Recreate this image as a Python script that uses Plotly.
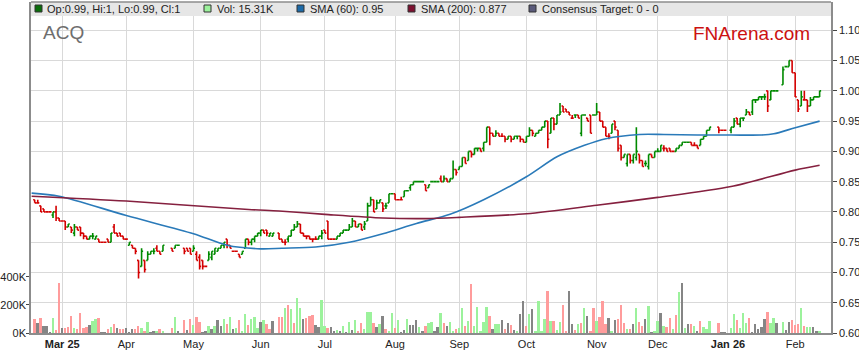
import pandas as pd
import plotly.graph_objects as go

# ---------------- data (one row per week, Mon..Fri; None = ASX holiday) ----------------
open_rows = [
    [.82,.815,.81,.805],
    [.80,.80,.795,.80,.79],[.785,.785,.775,.775,.765],[.775,.775,.765,.76,.755],[.76,.755,.755,.75,.75],
    [.755,.75,.775,.765,.765],[.76,.755,.745,.745,.74],[.72,.71,.72,.72,.73],[.735,.74,.735,.735,None],
    [None,.74,.74,.745,None],[.74,.74,.74,.735,.73],[.725,.72,.71,.72,.725],[.73,.735,.74,.745,.755],
    [.745,.735,.735,.73,.73],[.74,.755,.75,.755,.76],[.765,.77,.77,.76,.76],[None,.765,.755,.75,.755],
    [.76,.77,.775,.78,.765],[.76,.76,.755,.755,.755],[.76,.77,.785,.755,.755],[.755,.76,.765,.77,.77],
    [.775,.785,.775,.78,.775],[.785,.81,.82,.805,.815],[.815,.81,.815,.83,.83],[.82,.82,.825,.835,.84],
    [.845,.85,.85,.85,.845],[.84,.85,.85,.85,.855],[.85,.855,.85,.855,.87],[.87,.875,.89,.885,.90],
    [.895,.905,.905,.905,.915],[.94,.93,.925,.93,.925],[.925,.92,.925,.92,.925],[.925,.92,.915,.925,.935],
    [.925,.93,.935,.94,.95],[.93,.955,.945,.96,.975],[.97,.965,.955,.96,.96],[.93,.96,.955,.96,.96],
    [.96,.965,.95,.94,.925],[.93,.95,.935,.91,.89],[.88,.895,.885,.89,.895],[.885,.88,.875,.895,.89],
    [.90,.90,.905,.905,.905],[.90,.90,.905,.91,.915],[.915,.915,.91,.91,.91],[.92,.925,.935,None,None],
    [.94,.935,.935,None,.935],[.94,.955,.945,.955,.96],[.965,.965,.985,.985,.99],[.99,1.00,.985,1.00,1.00],
    [None,1.01,1.04,1.04,1.05],[1.03,.985,.975,.985,.985],[.975,.985,.99,.99],
]
high_rows = [
    [.82,.82,.81,.805],
    [.80,.80,.80,.81,.79],[.785,.785,.78,.775,.78],[.775,.775,.765,.76,.76],[.765,.76,.755,.75,.75],
    [.755,.765,.78,.765,.765],[.76,.755,.75,.745,.74],[.72,.74,.72,.735,.735],[.74,.745,.735,.745,None],
    [None,.74,.745,.745,None],[.74,.74,.74,.745,.735],[.73,.72,.71,.735,.735],[.74,.74,.745,.75,.755],
    [.745,.735,.735,.73,.735],[.755,.755,.755,.76,.765],[.77,.77,.77,.765,.765],[None,.765,.755,.755,.76],
    [.77,.78,.785,.78,.765],[.76,.76,.755,.76,.76],[.77,.77,.785,.755,.755],[.76,.765,.77,.77,.78],
    [.79,.785,.78,.78,.785],[.815,.825,.82,.82,.82],[.815,.815,.83,.83,.83],[.82,.825,.835,.835,.845],
    [.85,.85,.85,.85,.845],[.845,.85,.85,.85,.86],[.86,.855,.855,.885,.87],[.875,.89,.89,.90,.90],
    [.905,.905,.905,.915,.94],[.94,.93,.935,.93,.93],[.925,.925,.925,.925,.925],[.925,.92,.925,.94,.935],
    [.93,.935,.94,.95,.95],[.955,.955,.96,.98,.975],[.97,.965,.96,.96,.96],[.96,.96,.955,.96,.96],
    [.98,.965,.95,.94,.93],[.945,.95,.935,.91,.895],[.895,.895,.895,.94,.895],[.885,.885,.895,.895,.90],
    [.905,.91,.91,.905,.905],[.90,.905,.91,.915,.915],[.915,.915,.915,.91,.92],[.925,.935,.94,None,None],
    [.94,.935,.935,None,.94],[.955,.955,.955,.955,.97],[.965,.985,.985,.99,.99],[.995,1.00,1.00,1.00,1.00],
    [None,1.04,1.04,1.05,1.05],[1.03,.985,1.00,1.00,.985],[.99,.99,.99,1.00],
]
low_rows = [
    [.815,.815,.80,.80],
    [.80,.80,.79,.785,.785],[.785,.77,.775,.765,.76],[.77,.76,.755,.755,.755],[.755,.755,.75,.75,.75],
    [.75,.75,.765,.76,.76],[.755,.755,.745,.74,.73],[.69,.71,.70,.72,.73],[.73,.735,.73,.735,None],
    [None,.735,.74,.745,None],[.73,.735,.73,.735,.72],[.705,.705,.71,.72,.72],[.73,.735,.74,.74,.74],
    [.74,.735,.735,.725,.73],[.74,.745,.745,.75,.76],[.76,.765,.76,.76,.76],[None,.755,.75,.745,.75],
    [.76,.77,.775,.765,.76],[.755,.755,.75,.755,.755],[.755,.765,.755,.755,.755],[.755,.76,.765,.77,.77],
    [.775,.775,.775,.77,.77],[.785,.81,.80,.805,.815],[.80,.805,.815,.83,.82],[.82,.82,.825,.835,.835],
    [.845,.85,.85,.85,.835],[.84,.85,.85,.85,.85],[.85,.85,.85,.855,.86],[.87,.875,.88,.885,.89],
    [.895,.90,.90,.90,.915],[.91,.925,.925,.925,.925],[.915,.92,.915,.92,.92],[.915,.915,.915,.925,.925],
    [.925,.93,.935,.94,.905],[.93,.935,.945,.96,.965],[.965,.96,.955,.955,.955],[.925,.96,.95,.93,.96],
    [.96,.95,.94,.925,.92],[.93,.935,.90,.885,.89],[.875,.88,.88,.885,.88],[.875,.875,.87,.89,.89],
    [.90,.90,.90,.90,.90],[.90,.90,.905,.91,.915],[.915,.91,.91,.905,.91],[.92,.925,.935,None,None],
    [.93,.935,.935,None,.93],[.94,.945,.94,.95,.96],[.96,.96,.98,.985,.985],[.985,.965,.985,1.00,1.00],
    [None,1.01,1.04,1.04,1.03],[.99,.965,.975,.985,.965],[.975,.985,.99,.99],
]
close_rows = [
    [.815,.815,.80,.80],
    [.80,.80,.80,.79,.785],[.785,.775,.78,.77,.775],[.77,.765,.76,.755,.76],[.76,.76,.75,.75,.75],
    [.75,.765,.765,.76,.76],[.755,.755,.75,.74,.735],[.70,.735,.705,.73,.735],[.735,.735,.73,.745,None],
    [None,.735,.745,.745,None],[.735,.735,.73,.74,.72],[.71,.71,.71,.73,.735],[.74,.74,.745,.75,.745],
    [.74,.735,.735,.725,.735],[.755,.75,.755,.76,.765],[.77,.765,.765,.765,.765],[None,.755,.75,.75,.76],
    [.77,.775,.78,.765,.76],[.76,.755,.755,.755,.76],[.765,.765,.755,.755,.755],[.76,.765,.77,.77,.775],
    [.785,.775,.78,.77,.78],[.81,.82,.80,.815,.82],[.805,.81,.83,.83,.82],[.82,.82,.835,.835,.845],
    [.85,.85,.85,.85,.835],[.845,.85,.85,.85,.85],[.855,.85,.855,.87,.865],[.875,.89,.88,.90,.895],
    [.905,.905,.90,.915,.94],[.93,.925,.93,.925,.925],[.92,.925,.92,.925,.925],[.92,.915,.925,.935,.93],
    [.93,.935,.94,.95,.92],[.955,.945,.96,.965,.965],[.965,.96,.955,.96,.955],[.96,.96,.95,.93,.96],
    [.965,.95,.94,.925,.925],[.945,.94,.905,.89,.895],[.895,.885,.895,.90,.885],[.875,.88,.895,.89,.90],
    [.90,.91,.905,.90,.90],[.90,.905,.91,.915,.915],[.915,.91,.91,.905,.92],[.925,.935,.94,None,None],
    [.935,.935,.935,None,.94],[.95,.945,.955,.955,.965],[.96,.985,.985,.99,.99],[.99,.975,1.00,1.00,1.00],
    [None,1.035,1.04,1.05,1.03],[.99,.97,.99,.985,.975],[.985,.99,.99,1.00],
]
# volume in thousands of shares
volume_rows = [
    [102,74,110,52],
    [52,5,110,24,352],[38,33,45,119,38],[26,145,38,45,60],[88,102,110,2,2],
    [31,45,67,38,26],[31,38,2,26,26],[52,33,17,81,2],[10,12,31,12,None],
    [None,33,117,17,None],[95,24,102,60,117],[81,2,10,52,31],[52,95,52,102,67],
    [117,31,38,95,10],[138,60,102,117,38],[81,95,67,31,88],[None,117,117,181,202],
    [167,74,245,174,102],[110,124,131,60,45],[231,52,38,45,10],[24,17,52,2,81],
    [24,95,10,74,31],[152,152,74,45,67],[124,31,17,145,38],[95,2,24,102,60],
    [60,95,45,10,52],[74,81,17,45,145],[74,52,81,10,31],[38,174,52,88,345],
    [52,188,10,81,188],[124,31,67,67,95],[31,74,60,24,17],[138,224,52,138,167],
    [17,224,17,102,295],[88,88,24,81,202],[10,295,67,24,67],[74,174,124,17,174],
    [88,117,224,67,110],[10,95,102,202,74],[31,31,67,181,81],[52,102,195,2,10],
    [88,145,52,45,110],[31,131,288,352,38],[67,67,52,10,88],[45,31,88,None,None],
    [74,2,2,None,38],[138,95,38,145,74],[110,2,67,31,45],[102,152,74,110,74],
    [None,81,24,81,95],[60,67,174,52,45],[45,45,17,15.31],
]
# volume bar direction: u = up, d = down, n = unchanged, - = holiday
volume_dir_rows = [
    "dndn",
    "nnudd","ndddu","ddddn","uudnn","dudnd","dnnnd","dudun","nudu-",
    "-dun-","dndud","dnnun","unnud","unudu","uduuu","nuddn","-ddud",
    "uduun","dddnn","uudnn","ununu","nuddu","uudnu","nduud","unnun",
    "nnund","uunnu","dnuud","uudud","uuuuu","dnuun","dndnu","nndun",
    "uuuud","uduud","dnndu","dundd","udddn","unddd","udnud","dnunu",
    "unudd","udunu","ndund","uuu--","dnn-u","uduuu","dnnnn","nduun",
    "-unnd","ddudu","unnu",
]
holidays = ["2025-04-18","2025-04-21","2025-04-25","2025-06-09",
            "2025-12-25","2025-12-26","2026-01-01","2026-01-26"]

sma60_dates = ["2025-02-17","2025-02-28","2025-04-01","2025-05-01","2025-05-16","2025-06-02",
               "2025-06-11","2025-06-26","2025-07-11","2025-07-28","2025-08-12","2025-08-27",
               "2025-09-11","2025-10-01","2025-10-15","2025-10-28","2025-11-06","2025-11-21",
               "2025-12-03","2025-12-18","2026-01-02","2026-01-16","2026-01-22","2026-02-02","2026-02-12"]
sma60_values = [.831,.826,.794,.764,.745,.739,.740,.742,.750,.764,.781,.796,
                .820,.858,.891,.910,.921,.928,.928,.927,.927,.927,.929,.939,.950]
sma200_dates = ["2025-02-17","2025-04-01","2025-05-27","2025-06-10","2025-07-01","2025-07-28",
                "2025-08-15","2025-09-01","2025-10-01","2025-11-03","2025-12-01","2026-01-02",
                "2026-02-02","2026-02-12"]
sma200_values = [.826,.818,.804,.8015,.796,.790,.789,.791,.797,.811,.824,.842,.869,.877]

month_ticks = ["2025-03-03","2025-04-01","2025-05-01","2025-06-02","2025-07-01","2025-08-01",
               "2025-09-01","2025-10-01","2025-11-03","2025-12-01","2026-01-01","2026-02-02"]
month_labels = ["<b>Mar 25</b>","Apr","May","Jun","Jul","Aug","Sep","Oct","Nov","Dec","<b>Jan 26</b>","Feb"]
price_ticks = [0.60,0.65,0.70,0.75,0.80,0.85,0.90,0.95,1.00,1.05,1.10]
volume_ticks = [0,200000,400000]
volume_tick_labels = ["0K","200K","400K"]

# ---------------- assemble ----------------
def flat(rows):
    return [v for r in rows for v in r]

O, H, L, C = flat(open_rows), flat(high_rows), flat(low_rows), flat(close_rows)
V = flat(volume_rows)
D = "".join(volume_dir_rows)
weekdays = pd.bdate_range("2025-02-18", "2026-02-12")
assert len(weekdays) == len(O) == len(H) == len(L) == len(C) == len(V) == len(D)

half = pd.Timedelta(hours=12)
hol = set(pd.to_datetime(holidays))
idx = [i for i in range(len(weekdays)) if C[i] is not None and weekdays[i] not in hol]
dates = [weekdays[i] + half for i in idx]
o = [O[i] for i in idx]; h = [H[i] for i in idx]; l = [L[i] for i in idx]; c = [C[i] for i in idx]
vol = [V[i] * 1000 for i in idx]
vcol_map = {"u": "#9cf29c", "d": "#ff9c9c", "n": "#858585"}
vcol = [vcol_map.get(D[i], "#858585") for i in idx]

FONT = "Arial, 'Liberation Sans', sans-serif"
W, Hh = 859, 363
ML, MR, MT, MB = 31, 28, 2, 30
PW, PH = W - ML - MR, Hh - MT - MB

def px_x(x):
    return (x - ML) / PW

def px_y(y):
    return (MT + PH - y) / PH

fig = go.Figure()
fig.add_trace(go.Bar(x=dates, y=vol, marker=dict(color=vcol, line=dict(width=0)),
                     width=0.62 * 86400000, yaxis="y", showlegend=False, hoverinfo="skip"))
fig.add_trace(go.Ohlc(x=dates, open=o, high=h, low=l, close=c, yaxis="y2", tickwidth=0.5,
                      increasing=dict(line=dict(color="#008a00", width=1.6)),
                      decreasing=dict(line=dict(color="#d40000", width=1.6)),
                      showlegend=False))
fig.add_trace(go.Scatter(x=[pd.Timestamp(d) + half for d in sma60_dates], y=sma60_values, yaxis="y2",
                         mode="lines", line=dict(color="#2a7ab9", width=1.6, shape="spline", smoothing=0.8),
                         showlegend=False))
fig.add_trace(go.Scatter(x=[pd.Timestamp(d) + half for d in sma200_dates], y=sma200_values, yaxis="y2",
                         mode="lines", line=dict(color="#85203f", width=1.6, shape="spline", smoothing=0.8),
                         showlegend=False))

shapes = [
    dict(type="rect", xref="paper", yref="paper", x0=0, x1=1, y0=px_y(16), y1=1,
         fillcolor="#e6e6e6", line=dict(width=0), layer="above"),
    dict(type="line", xref="paper", yref="paper", x0=0, x1=1, y0=1, y1=1,
         line=dict(color="#8c8c8c", width=1.5), layer="above"),
]
legend_items = [
    (35, "#0a6e0a", "Op:0.99, Hi:1, Lo:0.99, Cl:1", 46),
    (204, "#9cf29c", "Vol: 15.31K", 216),
    (297, "#1d6aa8", "SMA (60): 0.95", 309),
    (408, "#7d1030", "SMA (200): 0.877", 420),
    (529, "#5a5a7a", "Consensus Target: 0 - 0", 541),
]
annotations = []
for sx, col, txt, tx in legend_items:
    shapes.append(dict(type="rect", xref="paper", yref="paper", x0=px_x(sx), x1=px_x(sx + 7),
                       y0=px_y(12), y1=px_y(5), fillcolor=col, line=dict(color="#333333", width=1),
                       layer="above"))
    annotations.append(dict(text=txt, xref="paper", yref="paper", x=px_x(tx - 1), y=px_y(9),
                            xanchor="left", yanchor="middle", showarrow=False,
                            font=dict(family=FONT, size=11, color="#222222")))
annotations.append(dict(text="ACQ", xref="paper", yref="paper", x=px_x(40.5), y=px_y(32.5),
                        xanchor="left", yanchor="middle", showarrow=False,
                        font=dict(family=FONT, size=19, color="#6e6e6e")))
annotations.append(dict(text="FNArena.com", xref="paper", yref="paper", x=px_x(690.5), y=px_y(34),
                        xanchor="left", yanchor="middle", showarrow=False,
                        font=dict(family=FONT, size=19, color="#cc1111")))

fig.update_layout(
    width=W, height=Hh, margin=dict(l=ML, r=MR, t=MT, b=MB, autoexpand=False),
    paper_bgcolor="white", plot_bgcolor="white", bargap=0,
    font=dict(family=FONT, size=11, color="#222222"),
    xaxis=dict(type="date", range=["2025-02-17 07:00", "2026-02-18 05:30"],
               rangebreaks=[dict(bounds=["sat", "mon"])],
               rangeslider=dict(visible=False),
               tickvals=[pd.Timestamp(d) + half for d in month_ticks], ticktext=month_labels,
               showgrid=True, gridcolor="#d9d9d9", gridwidth=1,
               showline=True, linecolor="#8c8c8c", linewidth=1.5, mirror=False,
               ticks="", zeroline=False, tickfont=dict(family=FONT, size=11, color="#222222")),
    yaxis=dict(range=[0, 2.35e6], tickvals=volume_ticks, ticktext=volume_tick_labels, side="left",
               showgrid=False, zeroline=False, showline=True, linecolor="#8c8c8c", linewidth=1.5,
               ticks="outside", ticklen=3, tickcolor="#444444", ticklabelstandoff=-2,
               tickfont=dict(family=FONT, size=11, color="#222222"), fixedrange=True),
    yaxis2=dict(range=[0.60, 0.60 + PH * 0.05 / 30.27], overlaying="y", side="right",
                tickvals=price_ticks, ticktext=["%.2f" % t for t in price_ticks],
                showgrid=True, gridcolor="#d9d9d9", gridwidth=1, zeroline=False,
                showline=True, linecolor="#8c8c8c", linewidth=1.5,
                ticks="outside", ticklen=4, tickcolor="#444444",
                tickfont=dict(family=FONT, size=11, color="#222222")),
    shapes=shapes, annotations=annotations,
)
fig.write_html("out.html", config={"displayModeBar": False},
               post_script="document.body.style.margin='0px';document.body.style.padding='0px';")
